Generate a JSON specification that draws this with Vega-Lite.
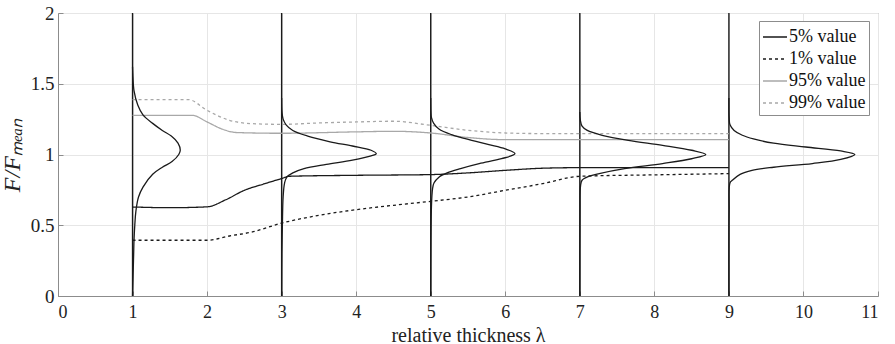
{
  "$schema": "https://vega.github.io/schema/vega-lite/v6.json",
  "width": 820,
  "height": 283,
  "autosize": {"type": "none"},
  "padding": {"left": 58, "top": 13, "right": 17, "bottom": 48},
  "config": {
    "font": "Liberation Serif",
    "view": {"stroke": "#8c8c8c", "strokeWidth": 1},
    "axis": {
      "labelFont": "Liberation Serif",
      "titleFont": "Liberation Serif",
      "labelFontSize": 18,
      "titleFontSize": 18,
      "labelColor": "#222",
      "titleColor": "#222",
      "titleFontWeight": "normal",
      "gridColor": "#e6e6e6",
      "gridWidth": 1,
      "domainColor": "#8c8c8c",
      "tickColor": "#8c8c8c",
      "tickSize": -5,
      "labelPadding": 10
    },
    "legend": {"labelFont": "Liberation Serif"}
  },
  "datasets": {
    "verticals": [{"x": 1}, {"x": 3}, {"x": 5}, {"x": 7}, {"x": 9}],
    "density": [
      {"g": 1, "i": 0, "x": 1.0, "y": 0.0},
      {"g": 1, "i": 1, "x": 1.005, "y": 0.1},
      {"g": 1, "i": 2, "x": 1.01, "y": 0.2},
      {"g": 1, "i": 3, "x": 1.015, "y": 0.3},
      {"g": 1, "i": 4, "x": 1.02, "y": 0.4},
      {"g": 1, "i": 5, "x": 1.03, "y": 0.5},
      {"g": 1, "i": 6, "x": 1.045, "y": 0.6},
      {"g": 1, "i": 7, "x": 1.08, "y": 0.7},
      {"g": 1, "i": 8, "x": 1.14, "y": 0.77},
      {"g": 1, "i": 9, "x": 1.27, "y": 0.86},
      {"g": 1, "i": 10, "x": 1.4, "y": 0.91},
      {"g": 1, "i": 11, "x": 1.53, "y": 0.95},
      {"g": 1, "i": 12, "x": 1.62, "y": 1.0},
      {"g": 1, "i": 13, "x": 1.64, "y": 1.03},
      {"g": 1, "i": 14, "x": 1.61, "y": 1.08},
      {"g": 1, "i": 15, "x": 1.52, "y": 1.13},
      {"g": 1, "i": 16, "x": 1.4, "y": 1.17},
      {"g": 1, "i": 17, "x": 1.27, "y": 1.22},
      {"g": 1, "i": 18, "x": 1.14, "y": 1.28},
      {"g": 1, "i": 19, "x": 1.07, "y": 1.35},
      {"g": 1, "i": 20, "x": 1.02, "y": 1.45},
      {"g": 1, "i": 21, "x": 1.005, "y": 1.55},
      {"g": 1, "i": 22, "x": 1.0, "y": 1.62},
      {"g": 3, "i": 0, "x": 3.0, "y": 0.0},
      {"g": 3, "i": 1, "x": 3.003, "y": 0.3},
      {"g": 3, "i": 2, "x": 3.01, "y": 0.5},
      {"g": 3, "i": 3, "x": 3.02, "y": 0.7},
      {"g": 3, "i": 4, "x": 3.04, "y": 0.8},
      {"g": 3, "i": 5, "x": 3.07, "y": 0.84},
      {"g": 3, "i": 6, "x": 3.15, "y": 0.87},
      {"g": 3, "i": 7, "x": 3.3, "y": 0.9},
      {"g": 3, "i": 8, "x": 3.6, "y": 0.93},
      {"g": 3, "i": 9, "x": 3.95, "y": 0.96},
      {"g": 3, "i": 10, "x": 4.2, "y": 0.99},
      {"g": 3, "i": 11, "x": 4.27, "y": 1.006},
      {"g": 3, "i": 12, "x": 4.2, "y": 1.03},
      {"g": 3, "i": 13, "x": 3.95, "y": 1.06},
      {"g": 3, "i": 14, "x": 3.65, "y": 1.09},
      {"g": 3, "i": 15, "x": 3.35, "y": 1.13},
      {"g": 3, "i": 16, "x": 3.15, "y": 1.17},
      {"g": 3, "i": 17, "x": 3.06, "y": 1.21},
      {"g": 3, "i": 18, "x": 3.02, "y": 1.25},
      {"g": 3, "i": 19, "x": 3.005, "y": 1.3},
      {"g": 3, "i": 20, "x": 3.0, "y": 1.4},
      {"g": 5, "i": 0, "x": 5.0, "y": 0.0},
      {"g": 5, "i": 1, "x": 5.003, "y": 0.4},
      {"g": 5, "i": 2, "x": 5.008, "y": 0.6},
      {"g": 5, "i": 3, "x": 5.015, "y": 0.7},
      {"g": 5, "i": 4, "x": 5.025, "y": 0.76},
      {"g": 5, "i": 5, "x": 5.045, "y": 0.8},
      {"g": 5, "i": 6, "x": 5.11, "y": 0.84},
      {"g": 5, "i": 7, "x": 5.22, "y": 0.87},
      {"g": 5, "i": 8, "x": 5.4, "y": 0.9},
      {"g": 5, "i": 9, "x": 5.65, "y": 0.935},
      {"g": 5, "i": 10, "x": 5.95, "y": 0.97},
      {"g": 5, "i": 11, "x": 6.13, "y": 1.006},
      {"g": 5, "i": 12, "x": 6.0, "y": 1.04},
      {"g": 5, "i": 13, "x": 5.78, "y": 1.07},
      {"g": 5, "i": 14, "x": 5.55, "y": 1.1},
      {"g": 5, "i": 15, "x": 5.28, "y": 1.14},
      {"g": 5, "i": 16, "x": 5.11, "y": 1.18},
      {"g": 5, "i": 17, "x": 5.04, "y": 1.22},
      {"g": 5, "i": 18, "x": 5.01, "y": 1.26},
      {"g": 5, "i": 19, "x": 5.003, "y": 1.3},
      {"g": 5, "i": 20, "x": 5.0, "y": 1.4},
      {"g": 7, "i": 0, "x": 7.0, "y": 0.0},
      {"g": 7, "i": 1, "x": 7.003, "y": 0.6},
      {"g": 7, "i": 2, "x": 7.01, "y": 0.78},
      {"g": 7, "i": 3, "x": 7.03, "y": 0.818},
      {"g": 7, "i": 4, "x": 7.12, "y": 0.845},
      {"g": 7, "i": 5, "x": 7.26, "y": 0.865},
      {"g": 7, "i": 6, "x": 7.6, "y": 0.9},
      {"g": 7, "i": 7, "x": 8.11, "y": 0.936},
      {"g": 7, "i": 8, "x": 8.5, "y": 0.97},
      {"g": 7, "i": 9, "x": 8.69, "y": 1.0},
      {"g": 7, "i": 10, "x": 8.5, "y": 1.03},
      {"g": 7, "i": 11, "x": 8.11, "y": 1.065},
      {"g": 7, "i": 12, "x": 7.65, "y": 1.1},
      {"g": 7, "i": 13, "x": 7.3, "y": 1.136},
      {"g": 7, "i": 14, "x": 7.1, "y": 1.17},
      {"g": 7, "i": 15, "x": 7.03, "y": 1.2},
      {"g": 7, "i": 16, "x": 7.008, "y": 1.24},
      {"g": 7, "i": 17, "x": 7.0, "y": 1.3},
      {"g": 9, "i": 0, "x": 9.0, "y": 0.0},
      {"g": 9, "i": 1, "x": 9.003, "y": 0.6},
      {"g": 9, "i": 2, "x": 9.015, "y": 0.8},
      {"g": 9, "i": 3, "x": 9.05, "y": 0.82},
      {"g": 9, "i": 4, "x": 9.15, "y": 0.86},
      {"g": 9, "i": 5, "x": 9.31, "y": 0.888},
      {"g": 9, "i": 6, "x": 9.6, "y": 0.91},
      {"g": 9, "i": 7, "x": 10.12, "y": 0.936},
      {"g": 9, "i": 8, "x": 10.5, "y": 0.965},
      {"g": 9, "i": 9, "x": 10.69, "y": 1.0},
      {"g": 9, "i": 10, "x": 10.5, "y": 1.025},
      {"g": 9, "i": 11, "x": 10.03, "y": 1.053},
      {"g": 9, "i": 12, "x": 9.6, "y": 1.08},
      {"g": 9, "i": 13, "x": 9.33, "y": 1.11},
      {"g": 9, "i": 14, "x": 9.18, "y": 1.136},
      {"g": 9, "i": 15, "x": 9.07, "y": 1.17},
      {"g": 9, "i": 16, "x": 9.015, "y": 1.21},
      {"g": 9, "i": 17, "x": 9.003, "y": 1.26},
      {"g": 9, "i": 18, "x": 9.0, "y": 1.4}
    ],
    "percentiles": [
      {"s": "5% value", "x": 1.0, "y": 0.629},
      {"s": "5% value", "x": 1.5, "y": 0.624},
      {"s": "5% value", "x": 2.0, "y": 0.63},
      {"s": "5% value", "x": 2.25, "y": 0.68},
      {"s": "5% value", "x": 2.5, "y": 0.747},
      {"s": "5% value", "x": 2.75, "y": 0.79},
      {"s": "5% value", "x": 3.0, "y": 0.83},
      {"s": "5% value", "x": 3.1, "y": 0.846},
      {"s": "5% value", "x": 4.0, "y": 0.853},
      {"s": "5% value", "x": 5.0, "y": 0.858},
      {"s": "5% value", "x": 5.5, "y": 0.87},
      {"s": "5% value", "x": 6.0, "y": 0.888},
      {"s": "5% value", "x": 6.5, "y": 0.903},
      {"s": "5% value", "x": 7.0, "y": 0.907},
      {"s": "5% value", "x": 8.0, "y": 0.907},
      {"s": "5% value", "x": 9.0, "y": 0.907},
      {"s": "1% value", "x": 1.0, "y": 0.394},
      {"s": "1% value", "x": 1.5, "y": 0.394},
      {"s": "1% value", "x": 2.0, "y": 0.394},
      {"s": "1% value", "x": 2.3, "y": 0.424},
      {"s": "1% value", "x": 2.6, "y": 0.452},
      {"s": "1% value", "x": 3.0, "y": 0.515},
      {"s": "1% value", "x": 3.5, "y": 0.57},
      {"s": "1% value", "x": 4.0, "y": 0.61},
      {"s": "1% value", "x": 4.5, "y": 0.641},
      {"s": "1% value", "x": 5.0, "y": 0.669},
      {"s": "1% value", "x": 5.5, "y": 0.7},
      {"s": "1% value", "x": 6.0, "y": 0.747},
      {"s": "1% value", "x": 6.5, "y": 0.794},
      {"s": "1% value", "x": 7.0, "y": 0.846},
      {"s": "1% value", "x": 8.0, "y": 0.856},
      {"s": "1% value", "x": 9.0, "y": 0.865},
      {"s": "95% value", "x": 1.0, "y": 1.277},
      {"s": "95% value", "x": 1.8, "y": 1.277},
      {"s": "95% value", "x": 2.0, "y": 1.23},
      {"s": "95% value", "x": 2.2, "y": 1.18},
      {"s": "95% value", "x": 2.4, "y": 1.155},
      {"s": "95% value", "x": 3.0, "y": 1.15},
      {"s": "95% value", "x": 4.0, "y": 1.16},
      {"s": "95% value", "x": 4.5, "y": 1.164},
      {"s": "95% value", "x": 5.0, "y": 1.152},
      {"s": "95% value", "x": 5.5, "y": 1.12},
      {"s": "95% value", "x": 6.0, "y": 1.105},
      {"s": "95% value", "x": 7.0, "y": 1.105},
      {"s": "95% value", "x": 9.0, "y": 1.105},
      {"s": "99% value", "x": 1.0, "y": 1.388},
      {"s": "99% value", "x": 1.75, "y": 1.388},
      {"s": "99% value", "x": 2.0, "y": 1.312},
      {"s": "99% value", "x": 2.3, "y": 1.242},
      {"s": "99% value", "x": 2.6, "y": 1.218},
      {"s": "99% value", "x": 3.0, "y": 1.213},
      {"s": "99% value", "x": 3.5, "y": 1.223},
      {"s": "99% value", "x": 4.0, "y": 1.23},
      {"s": "99% value", "x": 4.5, "y": 1.235},
      {"s": "99% value", "x": 5.0, "y": 1.206},
      {"s": "99% value", "x": 5.5, "y": 1.171},
      {"s": "99% value", "x": 6.0, "y": 1.152},
      {"s": "99% value", "x": 6.5, "y": 1.148},
      {"s": "99% value", "x": 7.0, "y": 1.148},
      {"s": "99% value", "x": 9.0, "y": 1.148}
    ]
  },
  "encoding": {
    "x": {
      "field": "x", "type": "quantitative",
      "scale": {"domain": [0, 11], "nice": false, "zero": false},
      "axis": {"values": [0,1,2,3,4,5,6,7,8,9,10,11], "title": "relative thickness λ", "titleFontSize": 20, "titlePadding": 4, "format": "~g", "labelPadding": 12}
    },
    "y": {
      "field": "y", "type": "quantitative",
      "scale": {"domain": [0, 2], "nice": false},
      "axis": {"values": [0, 0.5, 1, 1.5, 2], "title": "F/Fₘₑₐₙ", "titleFontStyle": "italic", "titleFontSize": 24, "titlePadding": 6, "format": "~g", "labelFontSize": 19, "labelPadding": 9}
    }
  },
  "layer": [
    {
      "data": {"name": "verticals"},
      "mark": {"type": "rule", "color": "#1a1a1a", "strokeWidth": 1.4},
      "encoding": {"x": {"field": "x", "type": "quantitative"}, "y": null}
    },
    {
      "data": {"name": "percentiles"},
      "mark": {"type": "line", "strokeWidth": 1.3, "interpolate": "monotone"},
      "encoding": {
        "color": {
          "field": "s", "type": "nominal",
          "scale": {"domain": ["5% value", "1% value", "95% value", "99% value"], "range": ["#1a1a1a", "#1a1a1a", "#a8a8a8", "#a8a8a8"]},
          "legend": {
            "title": null,
            "orient": "none",
            "legendX": 701,
            "legendY": 8,
            "symbolType": "stroke",
            "symbolSize": 576,
            "symbolStrokeWidth": 1.3,
            "labelFontSize": 18,
            "labelColor": "#111",
            "labelOffset": 1,
            "rowPadding": 0,
            "padding": 3,
            "strokeColor": "#8c8c8c",
            "fillColor": "white"
          }
        },
        "strokeDash": {
          "field": "s", "type": "nominal",
          "scale": {"domain": ["5% value", "1% value", "95% value", "99% value"], "range": [[1, 0], [3, 3], [1, 0], [3, 3]]},
          "legend": null
        }
      }
    },
    {
      "data": {"name": "density"},
      "mark": {"type": "line", "color": "#1a1a1a", "strokeWidth": 1.3, "interpolate": "catmull-rom"},
      "encoding": {
        "detail": {"field": "g", "type": "nominal"},
        "order": {"field": "i", "type": "quantitative"}
      }
    }
  ]
}
